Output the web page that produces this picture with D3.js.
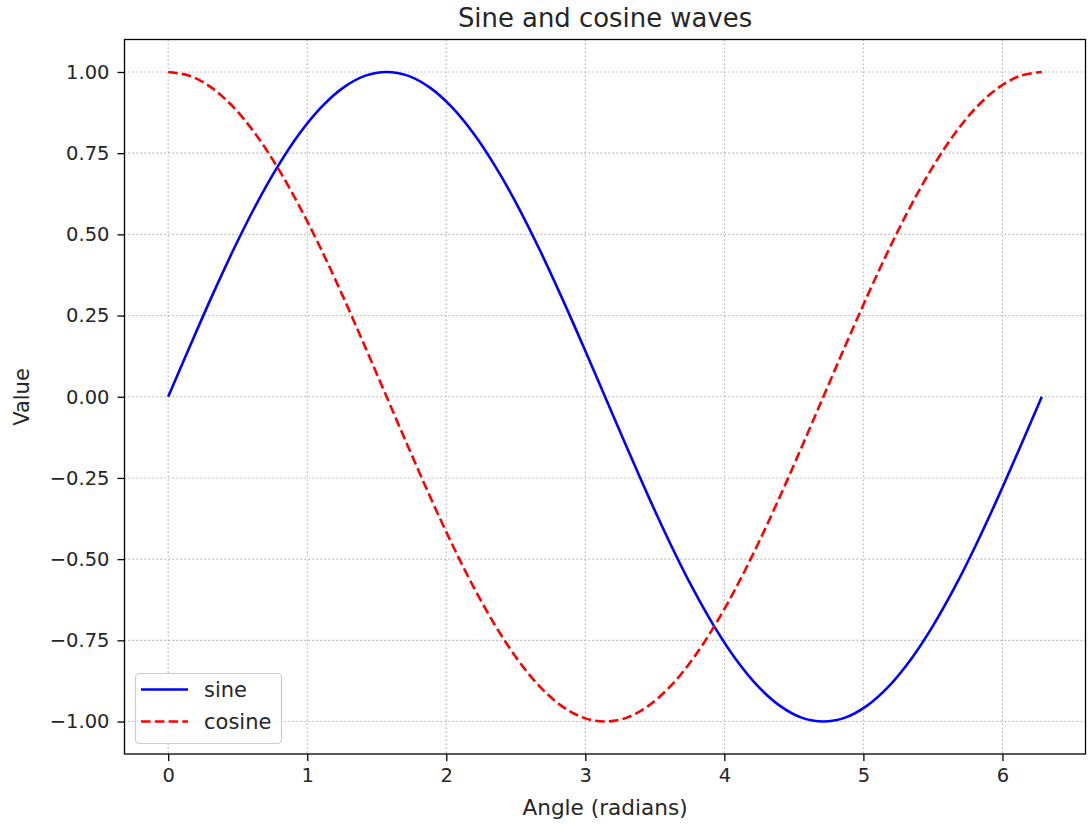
<!DOCTYPE html>
<html><head><meta charset="utf-8">
<script src="https://cdn.jsdelivr.net/npm/d3@7"></script>
<style>
body{margin:0;background:#fff;}
svg text{font-family:"DejaVu Sans",sans-serif;fill:#262626;}
</style></head>
<body><svg id="c" width="1089" height="824"></svg>
<script>
const angles = [0,0.157,0.314,0.471,0.628,0.785,0.942,1.100,1.257,1.414,1.571,1.728,1.885,2.042,2.199,2.356,2.513,2.670,2.827,2.985,3.142,3.299,3.456,3.613,3.770,3.927,4.084,4.241,4.398,4.555,4.712,4.869,5.027,5.184,5.341,5.498,5.655,5.812,5.969,6.126,6.283];
const sineValues = [0,0.156,0.309,0.454,0.588,0.707,0.809,0.891,0.951,0.988,1.000,0.988,0.951,0.891,0.809,0.707,0.588,0.454,0.309,0.156,0,-0.156,-0.309,-0.454,-0.588,-0.707,-0.809,-0.891,-0.951,-0.988,-1.000,-0.988,-0.951,-0.891,-0.809,-0.707,-0.588,-0.454,-0.309,-0.156,0];
const cosineValues = [1.000,0.988,0.951,0.891,0.809,0.707,0.588,0.454,0.309,0.156,0,-0.156,-0.309,-0.454,-0.588,-0.707,-0.809,-0.891,-0.951,-0.988,-1.000,-0.988,-0.951,-0.891,-0.809,-0.707,-0.588,-0.454,-0.309,-0.156,0,0.156,0.309,0.454,0.588,0.707,0.809,0.891,0.951,0.988,1.000];
const xTicks = [0,1,2,3,4,5,6];
const yTicks = [-1.00,-0.75,-0.50,-0.25,0.00,0.25,0.50,0.75,1.00];
const seriesNames = ["sine","cosine"];

const svg = d3.select("#c");
const L=124.5, R=1085.5, T=39.5, B=754;
const x = d3.scaleLinear().domain([-0.31416, 6.59734]).range([L,R]);
const y = d3.scaleLinear().domain([-1.1,1.1]).range([B,T]);

// grid
const g = svg.append("g");
g.selectAll(".gx").data(xTicks).enter().append("line")
  .attr("x1",d=>x(d)).attr("x2",d=>x(d)).attr("y1",T).attr("y2",B)
  .attr("stroke","#b0b0b0").attr("stroke-width",1.1).attr("stroke-dasharray","1.5,2.5");
g.selectAll(".gy").data(yTicks).enter().append("line")
  .attr("y1",d=>y(d)).attr("y2",d=>y(d)).attr("x1",L).attr("x2",R)
  .attr("stroke","#b0b0b0").attr("stroke-width",1.1).attr("stroke-dasharray","1.5,2.5");

const fmtMinus = s => s.replace("-","\u2212");
const xAxis = d3.axisBottom(x).tickValues(xTicks).tickSize(7).tickPadding(7).tickFormat(d=>d3.format("d")(d));
const yAxis = d3.axisLeft(y).tickValues(yTicks).tickSize(7).tickPadding(8).tickFormat(d=>fmtMinus(d3.format(".2f")(d)));
const xa = svg.append("g").attr("transform",`translate(0,${B})`).call(xAxis);
const ya = svg.append("g").attr("transform",`translate(${L},0)`).call(yAxis);
[xa,ya].forEach(a=>{
  a.select(".domain").remove();
  a.selectAll("line").attr("stroke","#000").attr("stroke-width",1.3);
  a.selectAll("text").attr("font-size",19.5).attr("fill","#262626").attr("font-family","DejaVu Sans");
});

// lines
const line = vals => d3.line().x((d,i)=>x(angles[i])).y(d=>y(d)).curve(d3.curveCatmullRom)(vals);
svg.append("path").attr("d",line(sineValues)).attr("fill","none").attr("stroke","#0000ff").attr("stroke-width",2.6);
svg.append("path").attr("d",line(cosineValues)).attr("fill","none").attr("stroke","#ff0000").attr("stroke-width",2.6).attr("stroke-dasharray","9.6,4.2");

// frame
svg.append("rect").attr("x",L).attr("y",T).attr("width",R-L).attr("height",B-T)
  .attr("fill","none").attr("stroke","#000").attr("stroke-width",1.3);

// titles
svg.append("text").attr("x",(L+R)/2).attr("y",27).attr("text-anchor","middle").attr("font-size",25.9).text("Sine and cosine waves");
svg.append("text").attr("x",(L+R)/2).attr("y",815).attr("text-anchor","middle").attr("font-size",21.6).text("Angle (radians)");
svg.append("text").attr("transform","translate(29,397) rotate(-90)").attr("text-anchor","middle").attr("font-size",21).text("Value");

// legend
const lg = svg.append("g");
lg.append("rect").attr("x",135.5).attr("y",673.5).attr("width",146).attr("height",70).attr("rx",4)
  .attr("fill","#fff").attr("fill-opacity",0.8).attr("stroke","#cccccc").attr("stroke-width",1.2);
const colors = ["#0000ff","#ff0000"], dashes=[null,"9.6,4.2"];
seriesNames.forEach((n,i)=>{
  const yy = 689.5 + i*32;
  lg.append("line").attr("x1",141).attr("x2",188).attr("y1",yy).attr("y2",yy)
    .attr("stroke",colors[i]).attr("stroke-width",2.6).attr("stroke-dasharray",dashes[i]);
  lg.append("text").attr("x",204).attr("y",yy+7.5).attr("font-size",21).text(n);
});
</script></body></html>
